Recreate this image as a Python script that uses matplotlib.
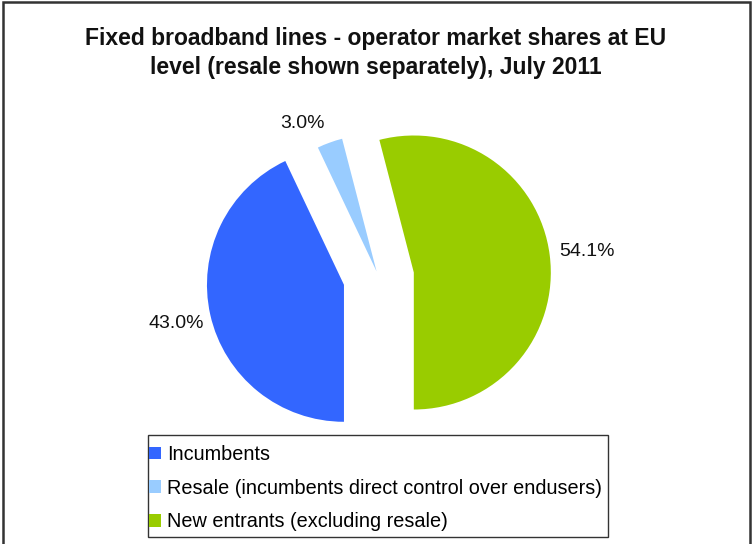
import matplotlib.pyplot as plt
from matplotlib.patches import Rectangle

plt.rcParams['font.family'] = ['Liberation Sans', 'DejaVu Sans']

# market shares, July 2011 (%)
segments = ['Incumbents',
            'Resale (incumbents direct control over endusers)',
            'New entrants (excluding resale)']
shares = [43.0, 3.0, 54.1]
colors = ['#3366FF', '#99CCFF', '#99CC00']
label_pos = [(176, 221), (302, 421), (587, 293)]

fig = plt.figure(figsize=(7.52, 5.44), dpi=100)
ax = fig.add_axes([0, 0, 1, 1])

# explode offsets are in data units (pixels here)
wedges, _ = ax.pie(shares, colors=colors, startangle=-90, counterclock=False,
                   explode=(35.5, 6, 35.5), radius=137, center=(378.6, 267),
                   wedgeprops=dict(linewidth=0))
ax.set_xlim(0, 752)
ax.set_ylim(0, 544)
ax.set_aspect('equal')
ax.axis('off')

for v, (x, y) in zip(shares, label_pos):
    ax.text(x, y, f'{v:.1f}%', ha='center', va='center', fontsize=14, color='#111111')

fig.text(0.5, 1 - 53 / 544, 'Fixed broadband lines - operator market shares at EU\n'
         'level (resale shown separately), July 2011',
         ha='center', va='center', fontsize=16.5, fontweight='bold',
         linespacing=1.36, color='#111111')

# legend entries, with the box drawn separately
leg = ax.legend(wedges, segments, loc='upper left',
                bbox_to_anchor=(149 / 752, 1 - 445 / 544), frameon=False,
                fontsize=14.3, handlelength=0.62, handleheight=0.62,
                handletextpad=0.27, labelspacing=0.74, borderpad=0,
                borderaxespad=0)
ax.add_patch(Rectangle((148, 544 - 537), 460, 102, fill=False,
                       edgecolor='#333333', linewidth=1.0))

# outer chart border
fig.patches.append(Rectangle((2.5 / 752, -0.05), 747.5 / 752, 1.05 - 1.5 / 544,
                             transform=fig.transFigure, fill=False,
                             edgecolor='#333333', linewidth=1.8))

fig.savefig('out.png', dpi=100)
